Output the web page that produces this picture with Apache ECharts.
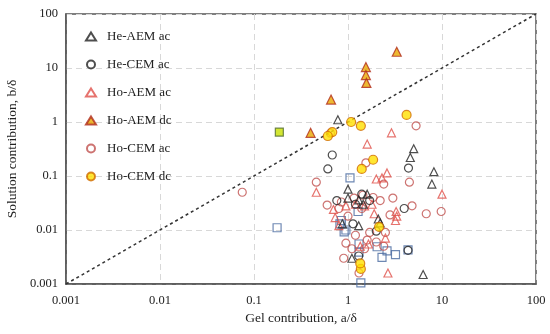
<!DOCTYPE html>
<html><head><meta charset="utf-8">
<script src="https://cdn.jsdelivr.net/npm/echarts@6/dist/echarts.min.js"></script>
<style>html,body{margin:0;padding:0;background:#fff}#c{width:550px;height:334px}</style>
</head><body><div id="c"></div>
<script>
const tickLabels = ["0.001","0.01","0.1","1","10","100"];
const heAEMac = [[0.78,1.1],[5.0,0.32],[4.6,0.22],[8.2,0.12],[7.8,0.071],[1.0,0.057],[1.0,0.039],[1.6,0.046],[0.87,0.013],[1.3,0.012],[2.1,0.016],[1.1,0.003],[6.3,0.0015],[2.2,0.0135],[1.3,0.036],[1.45,0.03]];
const heCEMac = [[0.68,0.245],[0.61,0.135],[4.4,0.14],[0.76,0.035],[1.4,0.046],[3.96,0.025],[1.13,0.013],[1.2,0.03],[4.35,0.0042],[1.3,0.0033],[1.7,0.035],[2.0,0.0095]];
const hoAEMac = [[2.6,0.114],[2.0,0.088],[2.3,0.092],[0.46,0.05],[0.7,0.024],[10,0.046],[3.25,0.022],[2.66,0.0016],[0.73,0.017],[3.2,0.015],[2.5,0.0071],[1.6,0.39],[2.9,0.63],[1.2,0.03],[1.5,0.028],[1.8,0.03],[0.8,0.012],[1.35,0.005],[0.95,0.028],[1.65,0.0055],[1.9,0.02],[3.3,0.018]];
const hoAEMdc = [[3.3,20],[1.55,10.4],[1.55,7.4],[1.57,5.3],[0.66,2.6],[0.40,0.63]];
const hoCEMac = [[0.075,0.05],[5.3,0.85],[1.55,0.175],[0.46,0.077],[2.4,0.071],[4.5,0.077],[3.0,0.039],[0.6,0.029],[1.16,0.039],[1.44,0.044],[4.8,0.028],[6.8,0.02],[9.8,0.022],[2.8,0.019],[1.0,0.018],[0.95,0.0057],[1.6,0.0065],[1.31,0.0016],[2.5,0.009],[0.65,0.62],[2.2,0.035],[1.85,0.04],[0.85,0.033],[1.2,0.008],[1.7,0.009],[2.0,0.006],[1.5,0.0045],[0.9,0.003],[1.1,0.0045],[2.4,0.005],[1.4,0.025],[0.8,0.025]];
const hoCEMdc = [[4.2,1.35],[1.08,1.0],[1.37,0.85],[0.68,0.65],[0.61,0.55],[1.85,0.2],[1.4,0.135],[2.14,0.0114],[1.37,0.0019],[1.35,0.0024]];
const blueSquares = [[0.176,0.011],[1.05,0.092],[1.28,0.022],[0.82,0.013],[0.91,0.0092],[0.95,0.01],[1.31,0.0039],[1.31,0.0055],[2.04,0.0049],[2.3,0.0031],[2.6,0.0041],[3.2,0.0035],[4.35,0.0043],[1.37,0.00105],[0.85,0.015]];
const greenSquare = [[0.186,0.65]];
const diagonal = [[0.001,0.001],[100,100]];

const font = "'Liberation Serif', 'DejaVu Serif', serif";
function sc(name, data, symbol, fill, stroke, size, z) {
  return {name, type:'scatter', data, symbol, symbolSize:size||8, z:z||2,
    itemStyle:{color:fill, borderColor:stroke, borderWidth:1.2}};
}
const chart = echarts.init(document.getElementById('c'), null, {renderer:'canvas'});
const labelFmt = v => { const i = Math.round(Math.log10(v)) + 3; return tickLabels[i] !== undefined ? tickLabels[i] : ''; };
chart.setOption({
  animation:false,
  backgroundColor:'#fff',
  grid:{left:66, right:14, top:14, bottom:50, containLabel:false, outerBoundsMode:'none',
    show:true, borderColor:'#555', borderWidth:1.5},
  legend:{data:['He-AEM ac','He-CEM ac','Ho-AEM ac','Ho-AEM dc','Ho-CEM ac','Ho-CEM dc'],
    orient:'vertical', left:80, top:25, itemGap:15, itemWidth:10, itemHeight:8,
    textStyle:{fontFamily:font, fontSize:13, color:'#222', padding:[0,0,0,6]}},
  xAxis:{type:'log', min:0.001, max:100, logBase:10,
    name:'Gel contribution, a/δ', nameLocation:'middle', nameGap:27,
    nameTextStyle:{fontFamily:font, fontSize:13.5, color:'#222'},
    axisLine:{show:true, lineStyle:{color:'#555', width:1.5}},
    axisTick:{show:false},
    axisLabel:{formatter:labelFmt, fontFamily:font, fontSize:12.5, color:'#222', margin:10},
    splitLine:{show:true, lineStyle:{color:'#d8d8d8', type:[6,4], width:1}}},
  yAxis:{type:'log', min:0.001, max:100, logBase:10,
    name:'Solution contribution, b/δ', nameLocation:'middle', nameGap:46,
    nameTextStyle:{fontFamily:font, fontSize:13.5, color:'#222'},
    axisLine:{show:true, lineStyle:{color:'#555', width:1.5}},
    axisTick:{show:false},
    axisLabel:{formatter:labelFmt, fontFamily:font, fontSize:12.5, color:'#222', margin:8},
    splitLine:{show:true, lineStyle:{color:'#d8d8d8', type:[6,4], width:1}}},
  series:[
    {name:'diag', type:'line', data:diagonal, symbol:'none', z:1,
      lineStyle:{color:'#333', width:1.5, type:[3,3]}},
    sc('blue', blueSquares, 'rect', 'rgba(0,0,0,0)', '#4a6aa0', 8, 2),
    sc('green', greenSquare, 'rect', '#c8e000', '#506a30', 8, 2),
    sc('Ho-CEM ac', hoCEMac, 'circle', 'rgba(0,0,0,0)', '#c0504d', 8, 3),
    sc('Ho-AEM ac', hoAEMac, 'triangle', 'rgba(0,0,0,0)', '#e0504a', 8, 3),
    sc('He-CEM ac', heCEMac, 'circle', 'rgba(0,0,0,0)', '#222', 8, 4),
    sc('He-AEM ac', heAEMac, 'triangle', 'rgba(0,0,0,0)', '#222', 8, 4),
    sc('Ho-AEM dc', hoAEMdc, 'triangle', '#e8a800', '#b02a1a', 9, 5),
    sc('Ho-CEM dc', hoCEMdc, 'circle', '#ffe000', '#d06a00', 9, 5)
  ]
});
</script></body></html>
